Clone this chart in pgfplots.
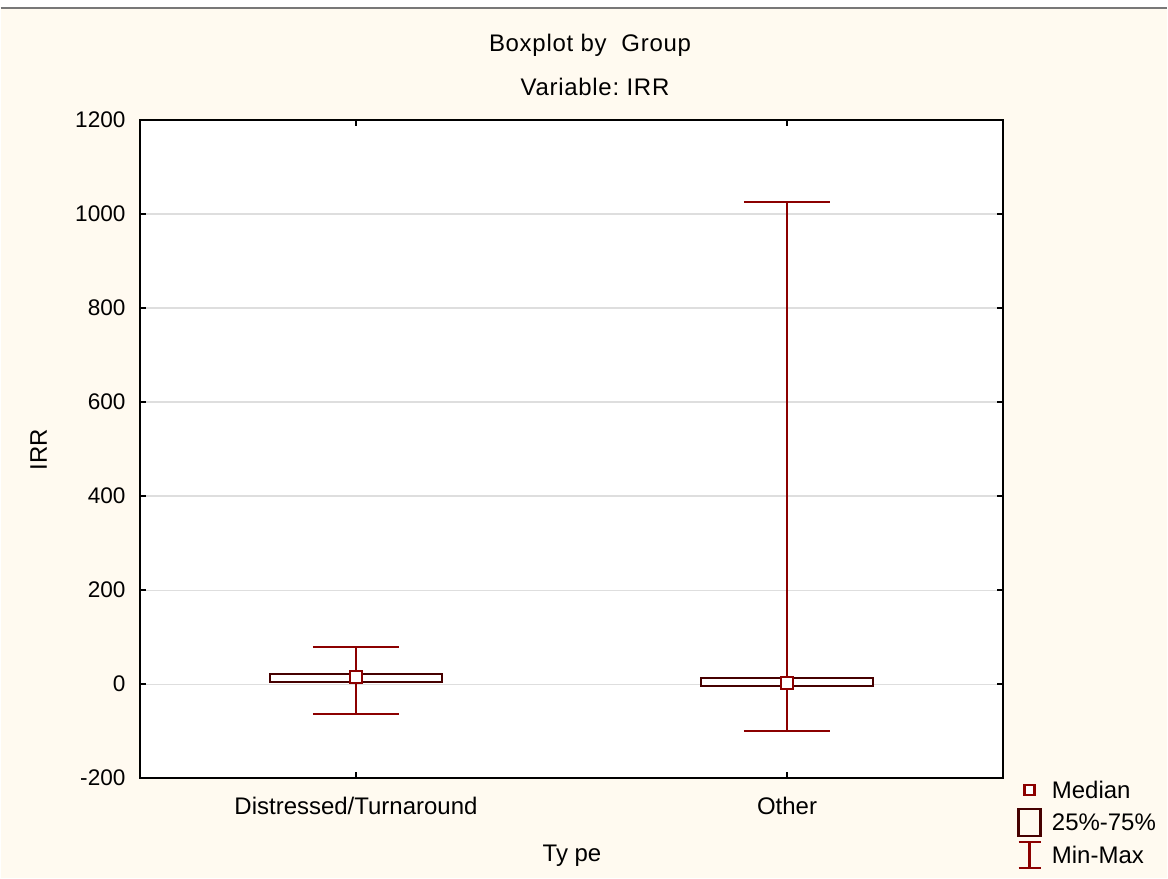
\documentclass[border=0pt]{standalone}
\usepackage{pgfplots}
\pgfplotsset{compat=1.18}
\usepackage{fontspec}
\setmainfont{Liberation Sans}
\newfontfamily\widefont[LetterSpace=3]{Liberation Sans}
\definecolor{cream}{RGB}{255,250,240}
\definecolor{whisk}{RGB}{140,0,0}
\definecolor{boxred}{RGB}{70,0,0}
\definecolor{gridgray}{RGB}{222,222,222}
\definecolor{topgray}{RGB}{120,120,120}
\begin{document}
\begin{tikzpicture}[font=\fontsize{12bp}{14bp}\selectfont]
\fill[white] (0,0) rectangle (584bp,439.5bp);
\fill[cream] (0,0) rectangle (584bp,435.5bp);
\draw[topgray, line width=0.6bp] (0,435.5bp) -- (584bp,435.5bp);
\node[font=\fontsize{12bp}{14bp}\widefont] at (295bp,417bp) {Boxplot by\ \ Group};
\node[font=\fontsize{12bp}{14bp}\widefont] at (297.5bp,396bp) {Variable:\ IRR};
\node at (286bp,11bp) {Ty pe};
\node[rotate=90] at (19bp,214.5bp) {IRR};
\begin{axis}[
  at={(70bp,50bp)}, anchor=south west,
  scale only axis, width=431.5bp, height=329.5bp,
  xmin=-0.5, xmax=1.5, ymin=-200, ymax=1200,
  ytick={-200,0,200,400,600,800,1000,1200},
  xtick={0,1}, xticklabels={Distressed/Turnaround,Other},
  tick align=inside, major tick length=3bp,
  tick style={black, line width=0.8bp},
  ymajorgrids, grid style={draw=gridgray, line width=0.6bp},
  axis line style={line width=1bp},
  axis background/.style={fill=white},
  /pgf/number format/assume math mode=true,
  /pgf/number format/1000 sep={},
  yticklabel style={xshift=-4bp, font=\fontsize{11.3bp}{13bp}\selectfont},
  xticklabel style={yshift=-6bp, font=\fontsize{12bp}{14bp}\selectfont},
]
% whiskers
\addplot[whisk, line width=1bp] coordinates {(-0.1,79) (0.1,79)};
\addplot[whisk, line width=1bp] coordinates {(0,79) (0,-64)};
\addplot[whisk, line width=1bp] coordinates {(-0.1,-64) (0.1,-64)};
\addplot[whisk, line width=1bp] coordinates {(0.9,1026) (1.1,1026)};
\addplot[whisk, line width=1bp] coordinates {(1,1026) (1,-100)};
\addplot[whisk, line width=1bp] coordinates {(0.9,-100) (1.1,-100)};
% boxes
\addplot[draw=boxred, fill=white, line width=1.1bp] coordinates {(-0.2,4) (0.2,4) (0.2,21) (-0.2,21)} -- cycle;
\addplot[draw=boxred, fill=white, line width=1.1bp] coordinates {(0.8,-4) (1.2,-4) (1.2,13) (0.8,13)} -- cycle;
% medians
\addplot[only marks, mark=square*, mark size=3bp, mark options={draw=whisk, fill=white, line width=1.1bp}] coordinates {(0,15) (1,3)};
\end{axis}
% legend
\draw[whisk, fill=white, line width=1.1bp] (512.5bp,41.5bp) rectangle (517.5bp,46.5bp);
\node[anchor=west, inner sep=0pt] at (526bp,44bp) {Median};
\draw[boxred, line width=1.1bp] (509.5bp,21bp) rectangle (520.5bp,34.5bp);
\node[anchor=west, inner sep=0pt] at (526bp,28bp) {25\%-75\%};
\draw[whisk, line width=1.1bp] (509.5bp,18bp) -- (520.5bp,18bp) (515bp,18bp) -- (515bp,5bp) (509.5bp,5bp) -- (520.5bp,5bp);
\node[anchor=west, inner sep=0pt] at (526bp,11.5bp) {Min-Max};
\end{tikzpicture}
\end{document}
